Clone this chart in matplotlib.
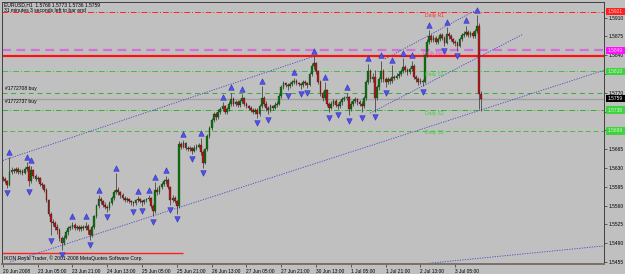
import matplotlib
matplotlib.use("Agg")
import matplotlib.pyplot as plt
from matplotlib.patches import Rectangle
from matplotlib.transforms import blended_transform_factory
import numpy as np

# EURUSD H1, prices in pips above 1.5000
FIRST_OPEN = 612
CLOSE = [610, 605, 598, 622, 626, 624, 628, 622, 625, 621,
         628, 632, 606, 626, 615, 610, 612, 600, 598, 590,
         570, 545, 530, 528, 520, 515, 500, 490, 500, 510,
         518, 520, 524, 518, 520, 516, 520, 518, 522, 514,
         505, 520, 540, 560, 572, 568, 562, 558, 555, 565,
         575, 585, 590, 585, 580, 575, 570, 572, 568, 566,
         565, 570, 572, 568, 566, 570, 572, 574, 560, 550,
         590, 585, 595, 600, 605, 608, 595, 570, 575, 568,
         560, 675, 670, 676, 668, 665, 667, 662, 668, 670,
         672, 660, 640, 665, 690, 705, 720, 730, 725, 735,
         740, 745, 735, 740, 750, 758, 750, 752, 748, 755,
         760, 750, 745, 742, 738, 735, 738, 730, 745, 760,
         750, 742, 738, 745, 742, 748, 750, 765, 780, 788,
         785, 782, 786, 790, 792, 788, 786, 784, 790, 788,
         785, 805, 820, 825, 810, 790, 770, 760, 775, 750,
         742, 750, 755, 748, 745, 752, 758, 760, 762, 740,
         750, 755, 758, 752, 750, 745, 760, 790, 810, 795,
         800, 760, 780, 795, 810, 795, 790, 795, 792, 800,
         798, 802, 805, 810, 818, 812, 808, 815, 820, 800,
         795, 790, 792, 790, 840, 865, 875, 868, 872, 865,
         870, 878, 872, 862, 880, 875, 870, 865, 862, 858,
         870, 878, 880, 884, 878, 882, 876, 885, 895, 768,
         759]
HIGH = [616, 613, 608, 650, 632, 630, 632, 631, 629, 628,
        632, 641, 635, 634, 628, 618, 616, 614, 604, 601,
        592, 573, 548, 536, 532, 525, 518, 504, 505, 514,
        522, 524, 530, 527, 524, 523, 524, 523, 530, 525,
        517, 523, 543, 563, 580, 576, 571, 566, 561, 568,
        578, 589, 620, 594, 588, 583, 578, 576, 575, 571,
        569, 573, 578, 575, 571, 573, 575, 579, 576, 563,
        604, 594, 598, 604, 609, 616, 611, 597, 579, 578,
        571, 680, 679, 683, 679, 671, 671, 670, 672, 674,
        676, 686, 663, 668, 694, 709, 724, 735, 734, 739,
        744, 752, 748, 744, 754, 770, 762, 757, 756, 759,
        767, 763, 753, 748, 746, 741, 742, 741, 749, 782,
        764, 754, 746, 749, 748, 752, 755, 769, 784, 792,
        791, 788, 790, 794, 798, 795, 791, 789, 794, 793,
        791, 809, 825, 838, 828, 813, 793, 774, 790, 778,
        753, 754, 759, 758, 751, 756, 762, 765, 770, 765,
        754, 759, 762, 761, 756, 754, 764, 794, 824, 814,
        806, 812, 785, 800, 830, 814, 799, 800, 798, 822,
        804, 806, 810, 815, 834, 822, 816, 819, 830, 824,
        804, 799, 797, 795, 845, 870, 887, 879, 877, 876,
        874, 882, 881, 875, 892, 884, 879, 873, 869, 866,
        874, 882, 885, 895, 887, 886, 886, 889, 914, 900,
        773]
LOW = [606, 602, 593, 596, 618, 620, 620, 618, 619, 617,
       618, 625, 596, 603, 612, 606, 606, 597, 593, 585,
       566, 540, 505, 522, 515, 508, 495, 478, 486, 497,
       506, 514, 516, 514, 514, 512, 513, 514, 515, 508,
       496, 502, 517, 537, 556, 563, 558, 553, 548, 552,
       561, 571, 581, 580, 575, 570, 566, 566, 564, 562,
       559, 562, 567, 564, 560, 563, 567, 569, 556, 540,
       547, 580, 582, 591, 597, 601, 591, 561, 566, 564,
       545, 556, 665, 667, 664, 661, 662, 657, 659, 664,
       667, 655, 630, 637, 662, 686, 701, 716, 720, 721,
       731, 736, 730, 731, 736, 746, 746, 746, 743, 744,
       751, 746, 741, 738, 734, 730, 731, 723, 727, 741,
       746, 737, 730, 735, 738, 739, 744, 747, 761, 777,
       781, 775, 779, 783, 787, 784, 782, 778, 781, 784,
       779, 782, 801, 815, 805, 786, 765, 755, 757, 745,
       734, 739, 746, 744, 739, 742, 748, 754, 756, 728,
       736, 746, 751, 748, 745, 734, 742, 757, 786, 790,
       791, 735, 756, 776, 791, 790, 780, 786, 787, 789,
       794, 795, 798, 801, 806, 808, 804, 805, 811, 796,
       790, 785, 786, 782, 788, 836, 861, 864, 864, 861,
       861, 866, 868, 858, 860, 871, 866, 861, 858, 848,
       855, 866, 874, 876, 874, 874, 872, 872, 882, 740,
       736]

# fractal bars
UP_FRACTALS = [3, 11, 13, 32, 38, 44, 52, 62, 67, 70, 75, 83, 91, 101, 105, 110,
               119, 134, 143, 148, 158, 168, 174, 179, 184, 188, 196, 204, 213, 218]
DOWN_FRACTALS = [2, 12, 22, 27, 40, 48, 60, 64, 69, 77, 80, 87, 92, 117, 122, 131,
                 137, 140, 150, 154, 159, 165, 171, 176, 193, 203, 209]

TIME_LABELS = ["20 Jun 2008", "23 Jun 05:00", "23 Jun 21:00", "24 Jun 13:00",
               "25 Jun 05:00", "25 Jun 21:00", "26 Jun 13:00", "27 Jun 05:00",
               "27 Jun 21:00", "30 Jun 13:00", "1 Jul 05:00", "1 Jul 21:00",
               "2 Jul 13:00", "3 Jul 05:00"]
BARS_PER_LABEL = 16

PRICE_TICKS = [1.5455, 1.5490, 1.5525, 1.5560, 1.5595, 1.5630, 1.5665, 1.5700,
               1.5735, 1.5770, 1.5805, 1.5840, 1.5875, 1.5910]
# tick labels covered by the level boxes
HIDDEN_TICKS = [1.5700, 1.5735, 1.5805]

R1 = 1.5921
PIVOT = 1.5849
S1 = 1.5810
S2 = 1.5738
S3 = 1.5699
BID = 1.5759
ORDER_1 = 1.5770
ORDER_2 = 1.5759
RED_LEVEL = 1.5838
RED_LOW = 1.5472
RED_LOW_END = 83

# trend lines: (bar, price) pairs
CHANNEL_UP = [(0, 1.5644), (143, 1.5838)]
CHANNEL_LOW = [(3.3, 1.5455), (276.4, 1.5812)]
SMALL_UP = [(175.7, 1.5833), (217.5, 1.5924)]
SMALL_LOW = [(168.8, 1.5732), (239.1, 1.5879)]
BOTTOM_LINE = [(191.8, 1.5451), (276.4, 1.5485)]

PIP = 0.0001
c = 1.5 + np.array(CLOSE) * PIP
h = 1.5 + np.array(HIGH) * PIP
l = 1.5 + np.array(LOW) * PIP
o = 1.5 + np.array([FIRST_OPEN] + CLOSE[:-1]) * PIP
idx = np.arange(len(c))

BG = "#c0c0c0"
plt.rcParams['font.family'] = ['Liberation Sans', 'DejaVu Sans']
fig = plt.figure(figsize=(6.25, 2.74), dpi=100, facecolor=BG)
ax = fig.add_axes([2 / 625, 10 / 274, 602 / 625, 262 / 274], facecolor=BG)

ax.set_xlim(-0.41, 276.4)
ax.set_ylim(1.54513, 1.59391)

# levels
ax.axhline(R1, color="#ff2020", lw=0.7, ls=(0, (6, 2, 1, 2)), zorder=1)
ax.axhline(PIVOT, color="#d070d8", lw=1.6, ls=(0, (4, 2.5)), zorder=1)
ax.axhline(RED_LEVEL, color="#ff1010", lw=1.6, zorder=1)
ax.axhline(S1, color="#40c040", lw=0.7, ls=(0, (6, 2, 1, 2)), zorder=1)
ax.axhline(ORDER_1, color="#30b030", lw=0.7, ls=(0, (5, 4)), zorder=1)
ax.axhline(BID, color="#a0a0a0", lw=1.0, zorder=1)
ax.axhline(S2, color="#30b030", lw=0.7, ls=(0, (6, 2, 1, 2)), zorder=1)
ax.axhline(S3, color="#40c040", lw=0.7, ls=(0, (5, 3)), zorder=1)
ax.hlines(RED_LOW, -0.4, RED_LOW_END, color="#ff2020", lw=1.0, zorder=1)

for line in (CHANNEL_UP, CHANNEL_LOW, SMALL_UP, SMALL_LOW, BOTTOM_LINE):
    xs, ys = zip(*line)
    ax.plot(xs, ys, color="#4848c8", lw=0.6, ls=(0, (1.5, 1.5)), zorder=1.5)

# candles
up = c >= o
ax.vlines(idx, l, h, color="#303030", lw=0.5, zorder=2)
body = np.maximum(np.abs(c - o), 0.00008)
ax.bar(idx[up], body[up], bottom=o[up], width=0.8, color="#107010",
       edgecolor="#0a3a0a", linewidth=0.2, zorder=3)
ax.bar(idx[~up], body[~up], bottom=c[~up], width=0.8, color="#b01818",
       edgecolor="#3a0a0a", linewidth=0.2, zorder=3)

# fractals
ax.scatter(UP_FRACTALS, h[UP_FRACTALS] + 0.0010, marker="^", s=16,
           color="#5050f0", edgecolor="#2020a0", linewidth=0.3, zorder=4)
ax.scatter(DOWN_FRACTALS, l[DOWN_FRACTALS] - 0.0010, marker="v", s=16,
           color="#5050f0", edgecolor="#2020a0", linewidth=0.3, zorder=4)

# level names
fs = 3.6
lvl_x = 194
ax.annotate("Daily R1", (lvl_x, R1), xytext=(0, -3), textcoords="offset points",
            color="#ff3030", fontsize=fs, va="center")
ax.annotate("Daily Pivot", (lvl_x - 1, PIVOT), xytext=(0, -2.2), textcoords="offset points",
            color="#e050d0", fontsize=fs, va="center")
ax.annotate("Daily S1", (lvl_x, S1), xytext=(0, -2.5), textcoords="offset points",
            color="#40d040", fontsize=fs, va="center")
ax.annotate("Daily S2", (lvl_x, S2), xytext=(0, -2.2), textcoords="offset points",
            color="#40d040", fontsize=fs, va="center")
ax.annotate("Daily S3", (lvl_x, S3), xytext=(0, -1.2), textcoords="offset points",
            color="#40d040", fontsize=fs, va="center")
ax.annotate("#1772708 buy", (1, ORDER_1), xytext=(0, 2.8), textcoords="offset points",
            fontsize=fs, va="center")
ax.annotate("#1772737 buy", (1, ORDER_2), xytext=(0, -2.2), textcoords="offset points",
            fontsize=fs, va="center")

ax.text(0.003, 0.989, "EURUSD,H1  1.5768 1.5773 1.5736 1.5759", transform=ax.transAxes,
        fontsize=fs, va="center")
ax.text(0.003, 0.966, "31 minutes 3 seconds left to bar end", transform=ax.transAxes,
        fontsize=fs, va="center")
ax.text(0.003, 0.023, "IKON Royal Trader, \u00a9 2001-2008 MetaQuotes Software Corp.",
        transform=ax.transAxes, fontsize=fs, va="center")

# axes
ax.yaxis.tick_right()
ax.set_yticks(PRICE_TICKS)
ax.set_yticklabels(["" if p in HIDDEN_TICKS else f"{p:.4f}" for p in PRICE_TICKS])
ax.set_xticks(np.arange(len(TIME_LABELS)) * BARS_PER_LABEL)
ax.set_xticklabels(TIME_LABELS)
for lab in ax.get_xticklabels():
    lab.set_ha("left")
ax.tick_params(axis="both", labelsize=3.5, length=2, width=0.5, pad=1, color="#303030")
ax.tick_params(axis="x", pad=1.5)
for s in ax.spines.values():
    s.set_color("#404040")
    s.set_linewidth(0.7)
ax.spines["bottom"].set_color("#7a7068")
ax.spines["bottom"].set_linewidth(1.4)

# price boxes on the right
tr = blended_transform_factory(ax.transAxes, ax.transData)
BOXES = [(R1, "#ff2020", "#ffd0d0"), (PIVOT, "#ff10ff", "#ffd0ff"),
         (S1, "#40d040", "#d0ffd0"), (BID, "#000000", "#ffffff"),
         (S2, "#40d040", "#d0ffd0"), (S3, "#40d040", "#d0ffd0")]
bh = 0.0014
for price, fc, tc in BOXES:
    ax.add_patch(Rectangle((1.003, price - bh / 2), 0.04, bh, transform=tr,
                           facecolor=fc, edgecolor="none", clip_on=False, zorder=6))
    ax.text(1.006, price, f"{price:.4f}", transform=tr, fontsize=3.5, color=tc,
            va="center", ha="left", clip_on=False, zorder=7)

fig.savefig("out.png", dpi=100, facecolor=BG)
